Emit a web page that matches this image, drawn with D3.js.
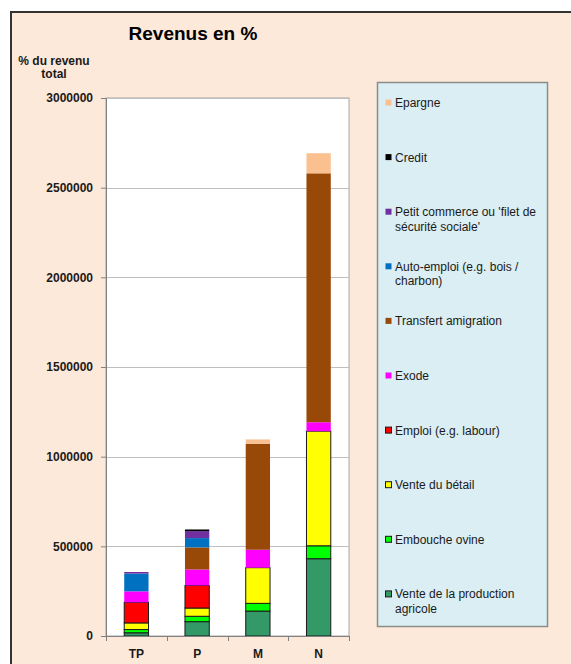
<!DOCTYPE html>
<html>
<head>
<meta charset="utf-8">
<script src="https://cdn.jsdelivr.net/npm/d3@7/dist/d3.min.js"></script>
<style>
  html, body { margin: 0; padding: 0; background: #ffffff; }
  svg { display: block; font-family: Arial, "Liberation Sans", sans-serif; }
</style>
</head>
<body>
<svg id="chart" width="571" height="664"></svg>
<script>
// Income sources per household group, stacked from the bottom up
const categories = ["TP", "P", "M", "N"];
const seriesNames = [
  "Vente de la production agricole",
  "Embouche ovine",
  "Vente du bétail",
  "Emploi (e.g. labour)",
  "Exode",
  "Transfert amigration",
  "Auto-emploi (e.g. bois / charbon)",
  "Petit commerce ou 'filet de sécurité sociale'",
  "Credit",
  "Epargne"
];
const venteProduction = [18000, 80000, 139000, 431000];
const emboucheOvine   = [18000, 30000, 43000, 72000];
const venteBetail     = [37000, 46000, 199000, 639000];
const emploi          = [115000, 126000, 0, 0];
const exode           = [61000, 89000, 100000, 50000];
const transfert       = [0, 123000, 591000, 1388000];
const autoEmploi      = [99000, 52000, 0, 0];
const petitCommerce   = [9000, 39000, 0, 0];
const credit          = [0, 9000, 0, 0];
const epargne         = [0, 0, 24000, 112000];
const yTicks = [0, 500000, 1000000, 1500000, 2000000, 2500000, 3000000];

// Legend lines (top to bottom)
const legendLabels = [
  ["Epargne"],
  ["Credit"],
  ["Petit commerce ou 'filet de", "sécurité sociale'"],
  ["Auto-emploi (e.g. bois /", "charbon)"],
  ["Transfert amigration"],
  ["Exode"],
  ["Emploi (e.g. labour)"],
  ["Vente du bétail"],
  ["Embouche ovine"],
  ["Vente de la production", "agricole"]
];

const colors = ["#339966", "#00ff00", "#ffff00", "#ff0000", "#ff00ff",
                "#984807", "#0070c0", "#7030a0", "#000000", "#fac090"];
const outlined = [true, true, true, true, false, false, false, false, false, false];

const seriesValues = [venteProduction, emboucheOvine, venteBetail, emploi, exode,
                      transfert, autoEmploi, petitCommerce, credit, epargne];

const rows = categories.map((c, i) => {
  const r = { cat: c };
  seriesNames.forEach((s, k) => { r[s] = seriesValues[k][i]; });
  return r;
});

const svg = d3.select("#chart");

// Chart background with frame
svg.append("rect").attr("x", 11).attr("y", 12).attr("width", 600).attr("height", 700)
  .attr("fill", "#fde9d9").attr("stroke", "#333").attr("stroke-width", 2);

const plot = { left: 106, right: 349, top: 98, bottom: 636 };

const x = d3.scaleBand().domain(categories).range([plot.left, plot.right]).paddingInner(0.6).paddingOuter(0.3);
const band = d3.scaleBand().domain(categories).range([plot.left, plot.right]);
const y = d3.scaleLinear().domain([0, 3000000]).range([plot.bottom, plot.top]);

// Plot area
svg.append("rect").attr("x", plot.left).attr("y", plot.top)
  .attr("width", plot.right - plot.left).attr("height", plot.bottom - plot.top)
  .attr("fill", "#ffffff").attr("stroke", "#a6a6a6").attr("stroke-width", 1);

// Gridlines
svg.append("g").selectAll("line").data(yTicks.slice(1)).join("line")
  .attr("x1", plot.left).attr("x2", plot.right)
  .attr("y1", d => Math.round(y(d)) + 0.5).attr("y2", d => Math.round(y(d)) + 0.5)
  .attr("stroke", "#bfbfbf").attr("stroke-width", 1);

// Stacked bars
const stack = d3.stack().keys(seriesNames)(rows);
const layers = svg.append("g").selectAll("g").data(stack).join("g")
  .attr("fill", (d, i) => colors[i])
  .attr("stroke", (d, i) => outlined[i] ? "#1a1a1a" : "none")
  .attr("stroke-width", 1);
layers.selectAll("rect").data(d => d.filter(p => p[1] - p[0] > 0)).join("rect")
  .attr("x", d => x(d.data.cat))
  .attr("width", x.bandwidth())
  .attr("y", d => y(d[1]))
  .attr("height", d => y(d[0]) - y(d[1]));

// Y axis
const yAxis = svg.append("g").attr("transform", `translate(${plot.left},0)`)
  .call(d3.axisLeft(y).tickValues(yTicks).tickFormat(d3.format("d")).tickSize(5).tickPadding(8));
yAxis.select(".domain").attr("stroke", "#808080");
yAxis.selectAll(".tick line").attr("stroke", "#808080");
yAxis.selectAll("text").attr("font-size", 12).attr("font-weight", "bold").attr("fill", "#1a1a1a")
  .attr("font-family", "Arial, 'Liberation Sans', sans-serif");

// X axis
const xAxis = svg.append("g").attr("transform", `translate(0,${plot.bottom})`)
  .call(d3.axisBottom(x).tickSize(0).tickPadding(13));
xAxis.select(".domain").attr("stroke", "#808080");
xAxis.selectAll("text").attr("font-size", 12).attr("font-weight", "bold").attr("fill", "#1a1a1a")
  .attr("font-family", "Arial, 'Liberation Sans', sans-serif");
// Category separators
svg.append("g").selectAll("line").data(categories.concat(["end"])).join("line")
  .attr("x1", (d, i) => Math.round(plot.left + i * band.step()) + 0.5)
  .attr("x2", (d, i) => Math.round(plot.left + i * band.step()) + 0.5)
  .attr("y1", plot.bottom).attr("y2", plot.bottom + 5)
  .attr("stroke", "#808080");

// Title
svg.append("text").attr("x", 193).attr("y", 40).attr("text-anchor", "middle")
  .attr("font-size", 19).attr("font-weight", "bold").attr("fill", "#000")
  .text("Revenus en %");

// Y axis title
const yt = svg.append("text").attr("text-anchor", "middle").attr("font-size", 12)
  .attr("font-weight", "bold").attr("fill", "#1a1a1a");
yt.append("tspan").attr("x", 54).attr("y", 65).text("% du revenu");
yt.append("tspan").attr("x", 54).attr("y", 78).text("total");

// Legend
const lg = svg.append("g");
lg.append("rect").attr("x", 377.5).attr("y", 82.5).attr("width", 170).attr("height", 544)
  .attr("fill", "#daeef3").attr("stroke", "#8c8c8c").attr("stroke-width", 1.5);
const legendRows = legendLabels.map((lines, i) => ({ lines, idx: seriesNames.length - 1 - i }));
const entry = lg.selectAll("g.entry").data(legendRows).join("g").attr("class", "entry")
  .attr("transform", (d, i) => `translate(0,${103 + i * 54.6})`);
entry.append("rect").attr("x", 385.5).attr("y", -3.5).attr("width", 6).attr("height", 6)
  .attr("fill", d => colors[d.idx])
  .attr("stroke", d => outlined[d.idx] ? "#1a1a1a" : "none").attr("stroke-width", 1);
entry.append("text").attr("font-size", 12).attr("fill", "#1a1a1a")
  .selectAll("tspan").data(d => d.lines).join("tspan")
  .attr("x", 395).attr("y", (d, i) => 4 + i * 14.5).text(d => d);
</script>
</body>
</html>
